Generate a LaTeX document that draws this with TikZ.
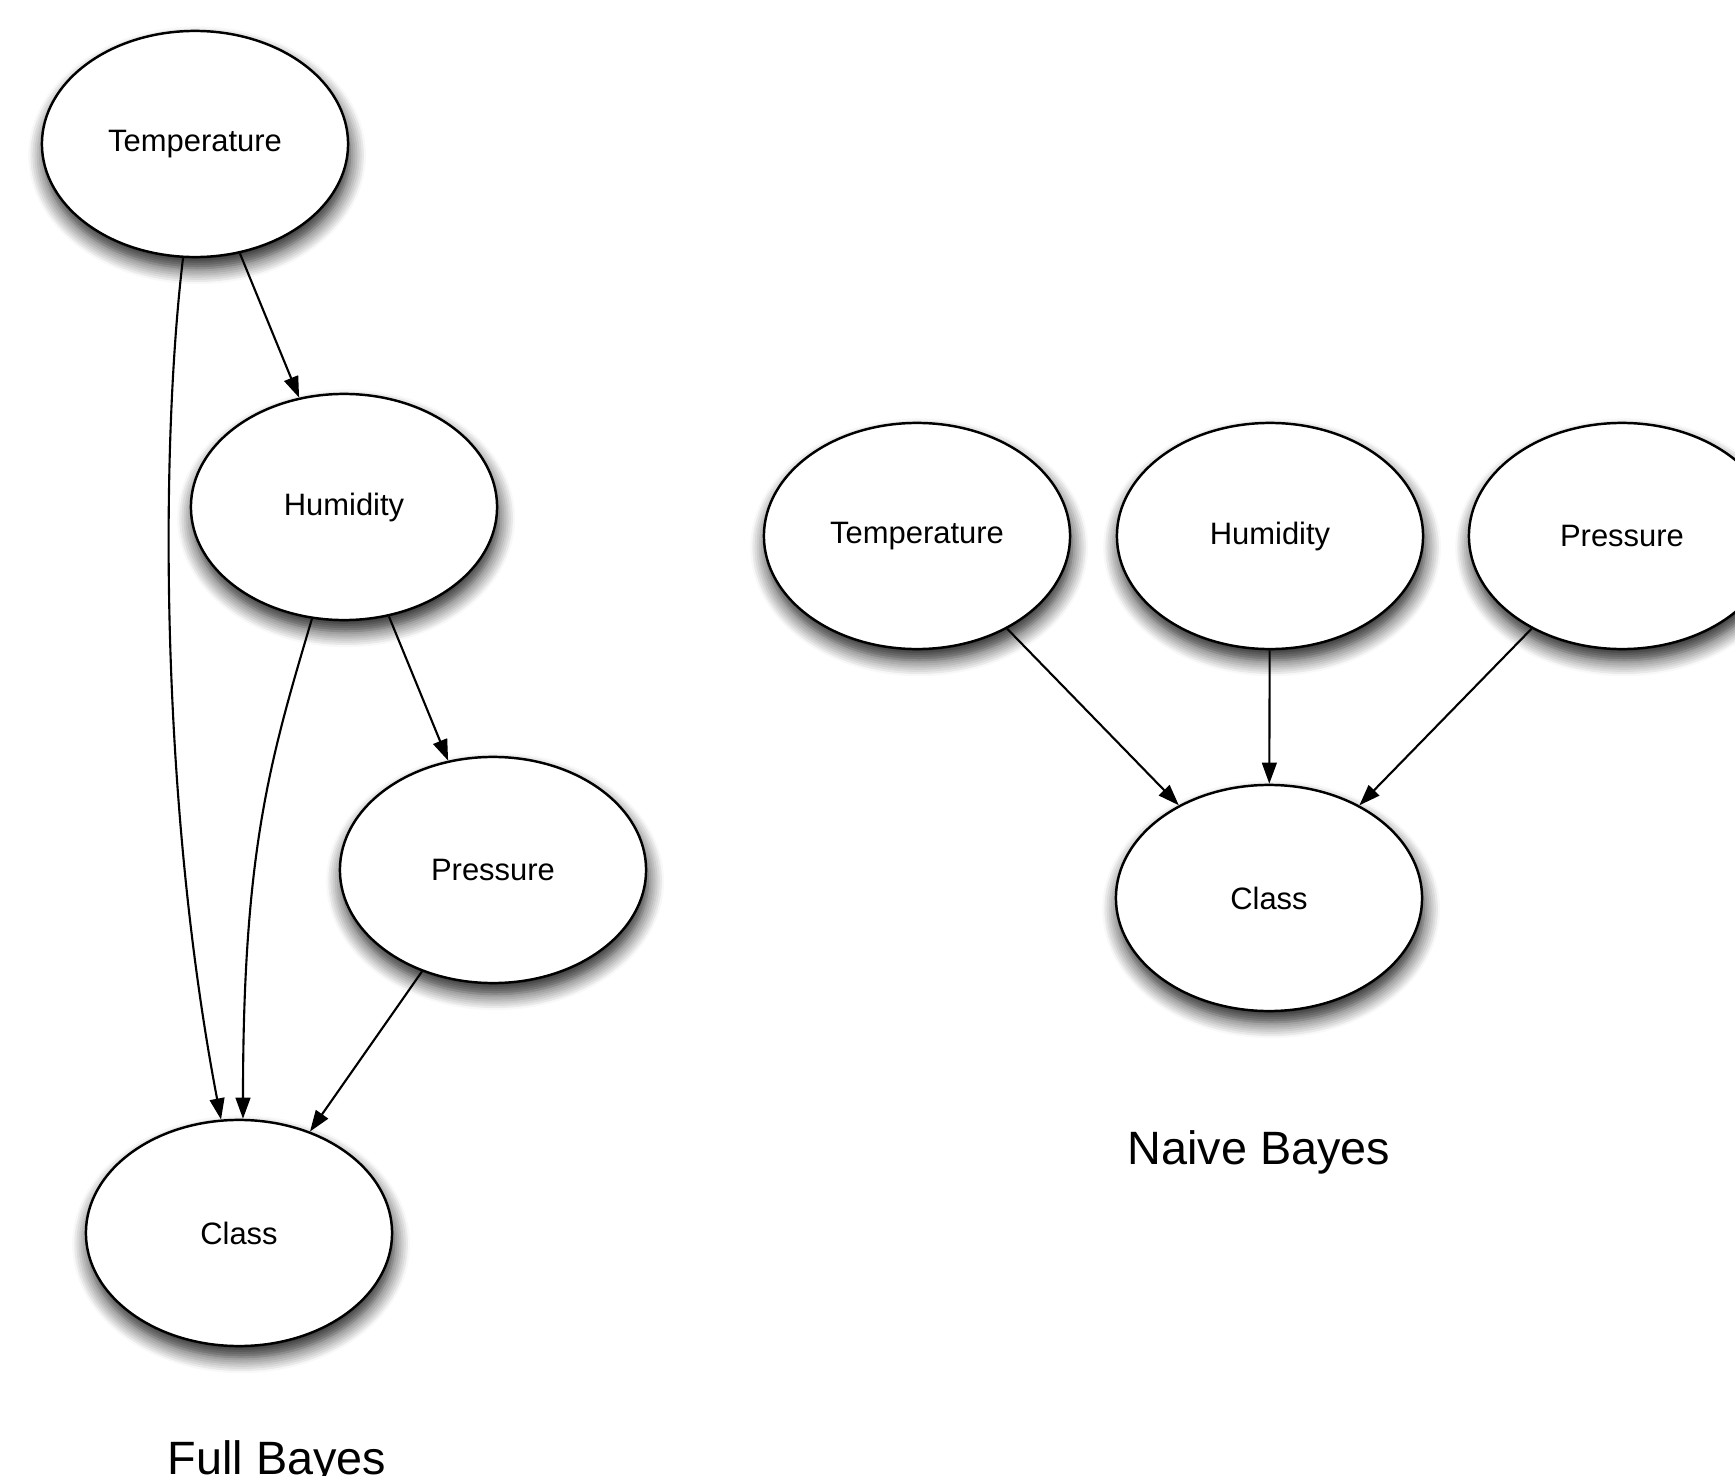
\documentclass[tikz,border=0pt]{standalone}
\usepackage{fontspec}
\setmainfont{Liberation Sans}
\usetikzlibrary{arrows.meta,shapes.geometric,shadows.blur}

\begin{document}
\begin{tikzpicture}[x=0.01cm, y=-0.01cm, font=\fontsize{8.8}{10}\selectfont,
  var/.style={draw, ellipse, line width=0.7pt, fill=white, inner sep=0pt,
    minimum width=3.06cm, minimum height=2.26cm,
    blur shadow={shadow xshift=0.6pt, shadow yshift=-3.2pt, shadow blur radius=4.5pt,
      shadow blur steps=8, shadow opacity=90}},
  dep/.style={-{Triangle[length=6pt,width=4.2pt]}, line width=0.6pt},
  title/.style={font=\fontsize{13.3}{15}\selectfont, anchor=base}]
\clip (0,0) rectangle (1735,1476);
% full bayes
\node[var] (ft) at (195,144) {Temperature};
\node[var] (fh) at (344,507) {Humidity};
\node[var] (fp) at (493,870) {Pressure};
\node[var] (fc) at (239,1233) {Class};
\node[title] (flab) at (277,1474) {Full Bayes};
\draw[dep] (ft) -- (fh);
\draw[dep] (fh) -- (fp);
\draw[dep] (fp) -- (fc);
\draw[dep] (ft.264) .. controls (160,450) and (160,800) .. (fc.99);
\draw[dep] (fh.254) .. controls (270,760) and (243,850) .. (fc.88);
% naive bayes
\node[var] (nt) at (917,536) {Temperature};
\node[var] (nh) at (1270,536) {Humidity};
\node[var] (np) at (1622,536) {Pressure};
\node[var] (nc) at (1269,898) {Class};
\node[title] (nlab) at (1259,1164) {Naive Bayes};
\draw[dep] (nt) -- (nc);
\draw[dep] (nh) -- (nc);
\draw[dep] (np) -- (nc);
\end{tikzpicture}
\end{document}
